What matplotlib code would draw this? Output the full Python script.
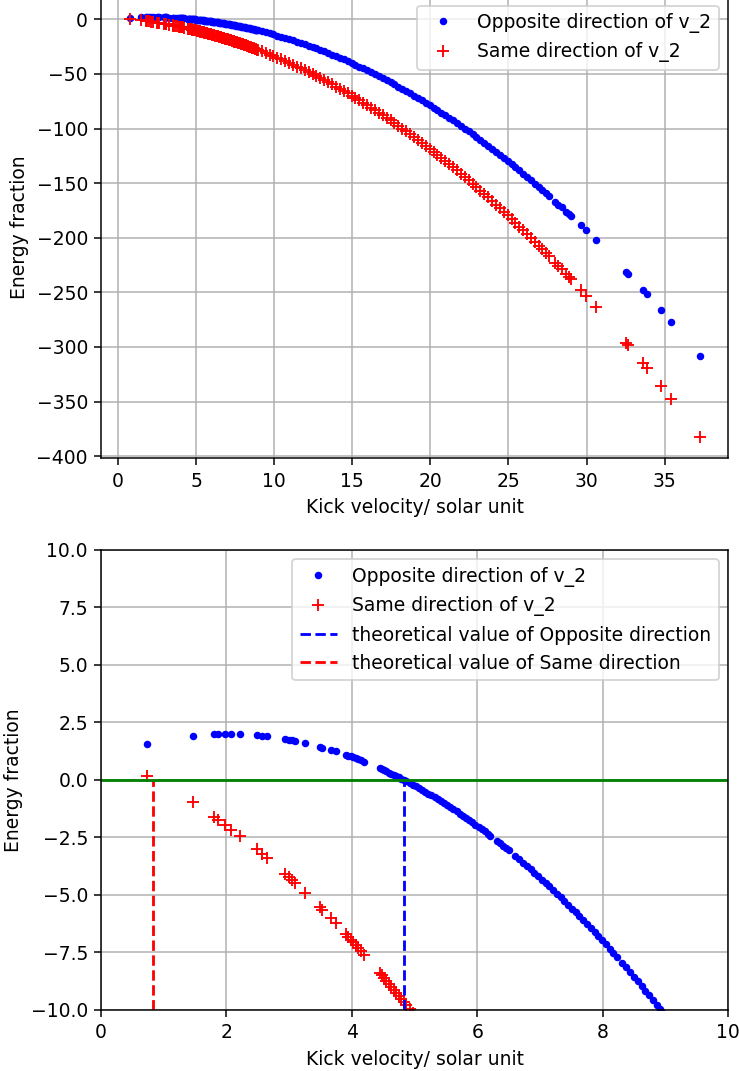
import numpy as np
import matplotlib
matplotlib.use("Agg")
import matplotlib.pyplot as plt

# kick velocities (solar units), shared by both runs
v_kick = [0.73, 1.46, 1.80, 1.86, 1.97, 2.08, 2.22, 2.48, 2.57, 2.64,
          2.94, 2.99, 3.04, 3.09, 3.26, 3.49, 3.53, 3.66, 3.74, 3.90,
          3.94, 3.98, 4.02, 4.06, 4.10, 4.14, 4.20, 4.45, 4.48, 4.51,
          4.55, 4.59, 4.63, 4.67, 4.71, 4.75, 4.79, 4.83, 4.87, 4.92,
          4.97, 5.02, 5.07, 5.12, 5.17, 5.22, 5.27, 5.32, 5.37, 5.42,
          5.47, 5.52, 5.57, 5.62, 5.67, 5.72, 5.77, 5.82, 5.87, 5.92,
          5.97, 6.02, 6.07, 6.12, 6.17, 6.21, 6.32, 6.36, 6.41, 6.46,
          6.50, 6.61, 6.67, 6.73, 6.79, 6.85, 6.91, 6.97, 7.03, 7.09,
          7.15, 7.21, 7.27, 7.33, 7.39, 7.45, 7.51, 7.57, 7.63, 7.69,
          7.75, 7.81, 7.87, 7.93, 7.99, 8.05, 8.11, 8.17, 8.23, 8.31,
          8.37, 8.43, 8.50, 8.56, 8.62, 8.68, 8.74, 8.80, 8.86, 8.92,
          8.97, 9.20, 9.45, 9.70, 9.95, 10.20, 10.45, 10.70, 10.95, 11.20,
          11.45, 11.70, 11.95, 12.20, 12.45, 12.70, 12.95, 13.20, 13.45, 13.70,
          13.95, 14.20, 14.45, 14.70, 14.95, 15.20, 15.45, 15.70, 15.95, 16.20,
          16.45, 16.70, 16.95, 17.20, 17.45, 17.70, 17.95, 18.20, 18.45, 18.70,
          18.95, 19.20, 19.45, 19.70, 19.95, 20.20, 20.45, 20.70, 20.95, 21.20,
          21.45, 21.70, 21.95, 22.20, 22.45, 22.70, 22.95, 23.20, 23.45, 23.70,
          23.95, 24.20, 24.45, 24.70, 24.95, 25.20, 25.45, 25.70, 25.95, 26.20,
          26.45, 26.70, 26.95, 27.15, 27.40, 27.60, 28.00, 28.20, 28.40, 28.70,
          28.85, 29.00, 29.62, 29.94, 30.58, 32.56, 32.66, 33.59, 33.85, 34.75,
          35.41, 37.24]

# energy fraction, kick opposite to v_2
E_opp = [1.56, 1.93, 1.99, 2.00, 2.00, 2.00, 1.99, 1.94, 1.92, 1.90,
         1.78, 1.75, 1.73, 1.70, 1.60, 1.45, 1.41, 1.31, 1.24, 1.10,
         1.06, 1.02, 0.98, 0.94, 0.90, 0.86, 0.79, 0.50, 0.46, 0.42,
         0.37, 0.32, 0.27, 0.22, 0.16, 0.11, 0.05, 0.00, -0.06, -0.13,
         -0.21, -0.28, -0.36, -0.43, -0.51, -0.59, -0.67, -0.76, -0.84, -0.92,
         -1.01, -1.10, -1.19, -1.28, -1.37, -1.46, -1.55, -1.65, -1.74, -1.84,
         -1.94, -2.04, -2.14, -2.24, -2.35, -2.43, -2.67, -2.75, -2.86, -2.97,
         -3.06, -3.31, -3.45, -3.59, -3.74, -3.88, -4.03, -4.18, -4.33, -4.48,
         -4.63, -4.79, -4.94, -5.10, -5.26, -5.43, -5.59, -5.76, -5.92, -6.09,
         -6.27, -6.44, -6.61, -6.79, -6.97, -7.15, -7.33, -7.52, -7.70, -7.95,
         -8.14, -8.34, -8.56, -8.76, -8.96, -9.16, -9.36, -9.56, -9.77, -9.97,
         -10.15, -10.96, -11.88, -12.82, -13.80, -14.81, -15.85, -16.92, -18.03, -19.16,
         -20.33, -21.52, -22.75, -24.01, -25.30, -26.62, -27.98, -29.36, -30.78, -32.22,
         -33.70, -35.21, -36.75, -38.32, -39.93, -41.56, -43.23, -44.92, -46.65, -48.41,
         -50.20, -52.02, -53.88, -55.76, -57.68, -59.62, -61.60, -63.61, -65.65, -67.72,
         -69.83, -71.96, -74.13, -76.32, -78.55, -80.81, -83.10, -85.42, -87.78, -90.16,
         -92.58, -95.02, -97.50, -100.01, -102.55, -105.12, -107.73, -110.36, -113.03, -115.72,
         -118.45, -121.21, -124.00, -126.82, -129.68, -132.56, -135.48, -138.42, -141.40, -144.41,
         -147.45, -150.52, -153.63, -156.13, -159.29, -161.84, -167.00, -169.61, -172.24, -176.22,
         -178.23, -180.25, -188.72, -193.16, -202.21, -231.48, -233.01, -247.48, -251.61, -266.14,
         -277.06, -308.47]

# energy fraction, kick along v_2
E_same = [0.16, -0.97, -1.61, -1.72, -1.94, -2.16, -2.45, -3.02, -3.22, -3.38,
          -4.10, -4.23, -4.35, -4.48, -4.92, -5.54, -5.65, -6.01, -6.24, -6.70,
          -6.82, -6.94, -7.06, -7.18, -7.30, -7.42, -7.61, -8.40, -8.50, -8.60,
          -8.73, -8.86, -8.99, -9.12, -9.26, -9.39, -9.53, -9.66, -9.80, -9.97,
          -10.15, -10.32, -10.50, -10.67, -10.85, -11.03, -11.21, -11.40, -11.58, -11.76,
          -11.95, -12.14, -12.33, -12.52, -12.71, -12.90, -13.09, -13.29, -13.48, -13.68,
          -13.88, -14.08, -14.28, -14.48, -14.69, -14.85, -15.31, -15.47, -15.68, -15.89,
          -16.06, -16.54, -16.79, -17.05, -17.32, -17.58, -17.85, -18.12, -18.39, -18.66,
          -18.93, -19.21, -19.48, -19.76, -20.04, -20.33, -20.61, -20.90, -21.18, -21.47,
          -21.77, -22.06, -22.35, -22.65, -22.95, -23.25, -23.55, -23.86, -24.17, -24.57,
          -24.88, -25.20, -25.56, -25.88, -26.20, -26.52, -26.84, -27.16, -27.49, -27.81,
          -28.09, -29.36, -30.78, -32.22, -33.70, -35.21, -36.75, -38.32, -39.93, -41.56,
          -43.23, -44.92, -46.65, -48.41, -50.20, -52.02, -53.88, -55.76, -57.68, -59.62,
          -61.60, -63.61, -65.65, -67.72, -69.83, -71.96, -74.13, -76.32, -78.55, -80.81,
          -83.10, -85.42, -87.78, -90.16, -92.58, -95.02, -97.50, -100.01, -102.55, -105.12,
          -107.73, -110.36, -113.03, -115.72, -118.45, -121.21, -124.00, -126.82, -129.68, -132.56,
          -135.48, -138.42, -141.40, -144.41, -147.45, -150.52, -153.63, -156.76, -159.93, -163.12,
          -166.35, -169.61, -172.90, -176.22, -179.58, -182.96, -186.38, -189.82, -193.30, -196.81,
          -200.35, -203.92, -207.53, -210.43, -214.09, -217.04, -223.00, -226.01, -229.04, -233.62,
          -235.93, -238.25, -247.96, -253.04, -263.37, -296.60, -298.33, -314.66, -319.31, -335.64,
          -347.88, -382.95]

# velocities where the energy fraction changes sign
v_theo_opp = 4.83
v_theo_same = 0.83

lab_opp = "Opposite direction of v_2"
lab_same = "Same direction of v_2"

dpi = 135
fig = plt.figure(figsize=(739 / dpi, 1071 / dpi), dpi=dpi)

# full range
ax = fig.add_axes([0.1367, 0.5719, 0.8485, 0.4317])
ax.plot(v_kick, E_opp, 'b.', label=lab_opp)
ax.plot(v_kick, E_same, 'r+', label=lab_same)
ax.set_xlabel("Kick velocity/ solar unit")
ax.set_ylabel("Energy fraction")
ax.grid()
ax.legend(loc='upper right')

# zoom near zero crossing
ax2 = fig.add_axes([0.1367, 0.0570, 0.8485, 0.4295])
ax2.plot(v_kick, E_opp, 'b.', label=lab_opp)
ax2.plot(v_kick, E_same, 'r+', label=lab_same)
ax2.plot([v_theo_opp, v_theo_opp], [-10, 0], 'b--',
         label="theoretical value of Opposite direction")
ax2.plot([v_theo_same, v_theo_same], [-10, 0], 'r--',
         label="theoretical value of Same direction")
ax2.axhline(0, color='g')
ax2.set_xlim([0, 10])
ax2.set_ylim([-10, 10])
ax2.set_xlabel("Kick velocity/ solar unit")
ax2.set_ylabel("Energy fraction")
ax2.grid()
ax2.legend(loc='upper right')

fig.savefig("out.png", dpi=dpi)
